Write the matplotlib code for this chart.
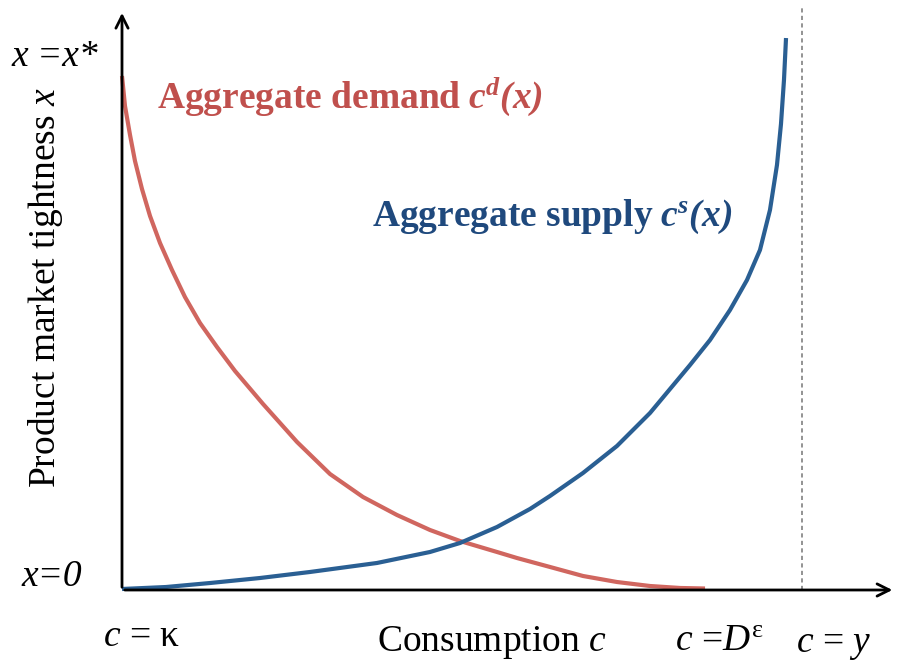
import matplotlib
matplotlib.use("Agg")
import matplotlib.pyplot as plt

plt.rcParams['font.family'] = 'Liberation Serif'
plt.rcParams['mathtext.fontset'] = 'custom'
plt.rcParams['mathtext.rm'] = 'Liberation Serif'
plt.rcParams['mathtext.it'] = 'Liberation Serif:italic'
plt.rcParams['mathtext.bf'] = 'Liberation Serif:bold'
plt.rcParams['mathtext.sf'] = 'Liberation Serif:bold:italic'

# consumption c (0 = kappa, 1 = y) vs market tightness x (1 = x*)
demand_c = [0.000, 0.0044, 0.0118, 0.0191, 0.0294, 0.0412, 0.0559, 0.0735, 0.0926,
            0.1147, 0.1397, 0.1662, 0.2074, 0.2574, 0.3059, 0.3544, 0.4044, 0.4529,
            0.4971, 0.5515, 0.5809, 0.6294, 0.6779, 0.7279, 0.7765, 0.8206, 0.8574]
demand_x = [0.9644, 0.9081, 0.8537, 0.8049, 0.7523, 0.7017, 0.6510, 0.6004, 0.5497,
            0.5009, 0.4559, 0.4109, 0.3490, 0.2777, 0.2176, 0.1745, 0.1407, 0.1126,
            0.0919, 0.0713, 0.0600, 0.0432, 0.0263, 0.0150, 0.0075, 0.0038, 0.0028]

supply_c = [0.000, 0.0647, 0.1294, 0.2029, 0.2765, 0.3750, 0.4529, 0.4971, 0.5515,
            0.6000, 0.6294, 0.6779, 0.7279, 0.7765, 0.8353, 0.8647, 0.8941, 0.9191,
            0.9382, 0.9529, 0.9632, 0.9691, 0.9735, 0.9765]
supply_x = [0.0019, 0.0056, 0.0131, 0.0225, 0.0338, 0.0507, 0.0713, 0.0882, 0.1182,
            0.1520, 0.1764, 0.2195, 0.2702, 0.3321, 0.4221, 0.4690, 0.5253, 0.5816,
            0.6379, 0.7129, 0.7974, 0.8743, 0.9568, 1.0356]

c_full = 1.0  # c = y

RED_LINE = '#D0665F'
RED_TXT = '#C0504D'
BLUE_LINE = '#2A5F93'
BLUE_TXT = '#1F497D'

fig = plt.figure(figsize=(8.99, 6.66), dpi=100)
ax = fig.add_axes([0, 0, 1, 1])
ax.set_xlim(-122 / 680, 777 / 680)
ax.set_ylim(-76 / 533, 590 / 533)
ax.axis('off')

# axes arrows
ax.annotate('', xy=(0, 1.088), xytext=(0, 0),
            arrowprops=dict(arrowstyle='->', lw=2, color='black', mutation_scale=22))
ax.annotate('', xy=(1.137, 0), xytext=(0, 0),
            arrowprops=dict(arrowstyle='->', lw=2, color='black', mutation_scale=22))

ax.plot([c_full, c_full], [0, 1.092], color='#808080', lw=1.2, ls=(0, (2.5, 2)))

ax.plot(demand_c, demand_x, color=RED_LINE, lw=3, solid_capstyle='butt',
        solid_joinstyle='round')
ax.plot(supply_c, supply_x, color=BLUE_LINE, lw=3, solid_capstyle='butt',
        solid_joinstyle='round')

fs = 27
ax.text(-0.162, 1.0, 'x =x*', style='italic', fontsize=fs, ha='left', va='center')
ax.text(-0.103, 0.025, 'x=0', style='italic', fontsize=fs, ha='center', va='center')
ax.text(-0.113, 0.568, r'Product market tightness $x$', fontsize=fs,
        rotation=90, ha='center', va='center')

ax.text(0.029, -0.088, r'$c$ = κ', fontsize=fs, ha='center', va='center')
ax.text(0.544, -0.098, r'Consumption $c$', fontsize=fs, ha='center', va='center')
ax.text(0.879, -0.098, r'$c$ =$D^{\mathrm{ε}}$', fontsize=fs, ha='center', va='center')
ax.text(1.046, -0.103, r'$c$ = $y$', fontsize=fs, ha='center', va='center')

ax.text(0.051, 0.925, r'$\mathbf{Aggregate\ demand}\ \mathsf{c^{d}(x)}$', fontsize=fs,
        color=RED_TXT, ha='left', va='center')
ax.text(0.368, 0.700, r'$\mathbf{Aggregate\ supply}\ \mathsf{c^{s}(x)}$', fontsize=fs,
        color=BLUE_TXT, ha='left', va='center')

fig.savefig('out.png', dpi=100)
